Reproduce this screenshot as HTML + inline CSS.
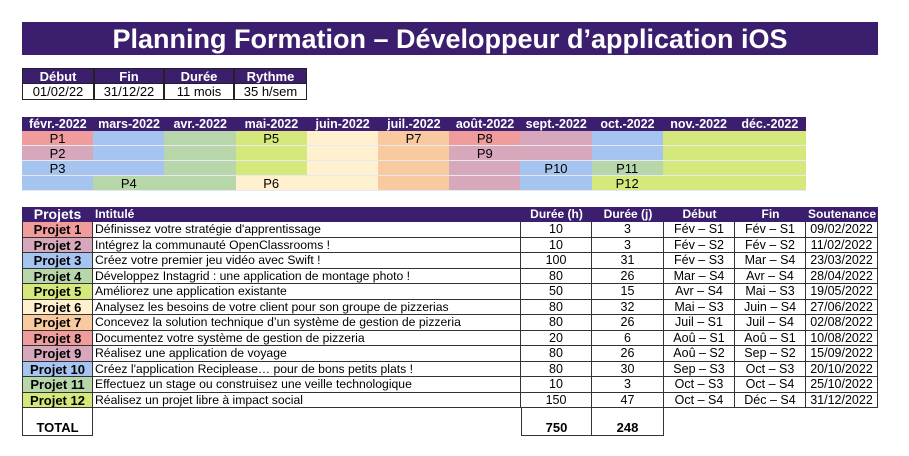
<!DOCTYPE html>
<html><head><meta charset="utf-8">
<style>
body{margin:0;width:909px;height:456px;background:#fff;position:relative;overflow:hidden;font-family:"Liberation Sans",Arial,sans-serif;}
.c{position:absolute;box-sizing:border-box;font-size:13px;line-height:15px;color:#000;white-space:nowrap;overflow:hidden}
.h{background:#3b1e6e;color:#fff;font-weight:bold;text-align:center}
.ctr{text-align:center}
</style></head><body>
<div class="c h" style="left:22px;top:22px;width:856px;height:33px;font-size:27px;line-height:34px;">Planning Formation – Développeur d’application iOS</div>
<div id="root"></div>
<script>
const months=["févr.-2022","mars-2022","avr.-2022","mai-2022","juin-2022","juil.-2022","août-2022","sept.-2022","oct.-2022","nov.-2022","déc.-2022"];
const C={r:"#f09c9c",p:"#d7a7bb",b:"#a5c4f0",g:"#b7d7aa",l:"#d5e87c",y:"#fff0cf",o:"#f9c9a0"};
const ganttRows=[
 ["r","b","g","l","y","o","r","p","b","l","l"],
 ["p","b","g","l","y","o","p","p","b","l","l"],
 ["b","b","g","l","y","o","p","b","g","l","l"],
 ["b","g","g","y","y","o","p","b","l","l","l"]];
const ganttLabels=[[[0,"P1"],[3,"P5"],[5,"P7"],[6,"P8"]],[[0,"P2"],[6,"P9"]],[[0,"P3"],[7,"P10"],[8,"P11"]],[[1,"P4"],[3,"P6"],[8,"P12"]]];
const projColors=["r","p","b","g","l","y","o","r","p","b","g","l"];
const titles=["Définissez votre stratégie d'apprentissage","Intégrez la communauté OpenClassrooms !","Créez votre premier jeu vidéo avec Swift !","Développez Instagrid : une application de montage photo !","Améliorez une application existante","Analysez les besoins de votre client pour son groupe de pizzerias","Concevez la solution technique d’un système de gestion de pizzeria","Documentez votre système de gestion de pizzeria","Réalisez une application de voyage","Créez l'application Reciplease… pour de bons petits plats !","Effectuez un stage ou construisez une veille technologique","Réalisez un projet libre à impact social"];
const hours=[10,10,100,80,50,80,80,20,80,80,10,150];
const days=[3,3,31,26,15,32,26,6,26,30,3,47];
const starts=["Fév – S1","Fév – S2","Fév – S3","Mar – S4","Avr – S4","Mai – S3","Juil – S1","Aoû – S1","Aoû – S2","Sep – S3","Oct – S3","Oct – S4"];
const ends=["Fév – S1","Fév – S2","Mar – S4","Avr – S4","Mai – S3","Juin – S4","Juil – S4","Aoû – S1","Sep – S2","Oct – S3","Oct – S4","Déc – S4"];
const defenses=["09/02/2022","11/02/2022","23/03/2022","28/04/2022","19/05/2022","27/06/2022","02/08/2022","10/08/2022","15/09/2022","20/10/2022","25/10/2022","31/12/2022"];
const summaryHead=["Début","Fin","Durée","Rythme"];
const summaryVals=["01/02/22","31/12/22","11 mois","35 h/sem"];

const root=document.getElementById('root');
function cell(x,y,w,h,txt,cls,style,name){
 const d=document.createElement('div');
 d.className='c '+(cls||'');
 d.style.cssText=`left:${x}px;top:${y}px;width:${w}px;height:${h}px;line-height:${h}px;`+(style||'');
 d.textContent=txt;
 
 
 root.appendChild(d);return d;}
const sx=[22,94,164,234,307];
summaryHead.forEach((t,i)=>{
 cell(sx[i],68,sx[i+1]-sx[i],16,t,'h','border:1px solid #222;font-size:13px','summary-header');
 cell(sx[i],84,sx[i+1]-sx[i],16,summaryVals[i],'ctr','border:1px solid #222;border-top:none;font-size:13px','summary-value');
});
const gx0=22,gw=71.2,gy=117;
months.forEach((m,i)=>cell(gx0+i*gw,gy,gw+0.5,14,m,'h','font-size:12.5px','gantt-month-header'));
ganttRows.forEach((row,r)=>row.forEach((c,i)=>cell(gx0+i*gw,131+r*15,gw+0.5,15,'','',`background:${C[c]};border-bottom:1px solid #e8e8f0`,'gantt-cell')));
ganttLabels.forEach((row,r)=>row.forEach(([i,t])=>cell(gx0+i*gw,131+r*15,gw,15,t,'ctr','font-size:13px;background:transparent','gantt-label')));
const cx=[22,93,521,592,664,735,806,878];
const heads=["Projets","Intitulé","Durée (h)","Durée (j)","Début","Fin","Soutenance"];
heads.forEach((t,i)=>cell(cx[i],207,cx[i+1]-cx[i],15,t,'h',(i==1?'text-align:left;padding-left:2px;':'')+'font-size:'+(i==0?14:12)+'px','table-header'));
const rh=15.5,ry=222;
const fs='font-size:12.5px;';
for(let r=0;r<12;r++){
 const y=ry+r*rh;
 const b='border-right:1px solid #333;border-bottom:1px solid #333;';
 cell(cx[0],y,cx[1]-cx[0],rh,'Projet '+(r+1),'ctr',`background:${C[projColors[r]]};font-weight:bold;font-size:13px;border-left:1px solid #333;`+b,'project-label');
 cell(cx[1],y,cx[2]-cx[1],rh,titles[r],'',`padding-left:2px;font-size:12.2px;`+b,'project-title');
 cell(cx[2],y,cx[3]-cx[2],rh,hours[r],'ctr',b+fs,'duration-hours');
 cell(cx[3],y,cx[4]-cx[3],rh,days[r],'ctr',b+fs,'duration-days');
 cell(cx[4],y,cx[5]-cx[4],rh,starts[r],'ctr',b+fs,'start-week');
 cell(cx[5],y,cx[6]-cx[5],rh,ends[r],'ctr',b+fs,'end-week');
 cell(cx[6],y,cx[7]-cx[6],rh,defenses[r],'ctr',b+fs,'defense-date');
}
const ty=ry+12*rh, th=436-ty;
cell(cx[0],ty,cx[1]-cx[0],th,'TOTAL','ctr','border:1px solid #333;border-top:none;font-weight:bold;line-height:14px;padding-top:'+(th-15)+'px','total-label');
cell(cx[2],ty,cx[3]-cx[2],th,hours.reduce((a,b)=>a+b,0),'ctr','border:1px solid #333;border-top:none;font-weight:bold;line-height:14px;padding-top:'+(th-15)+'px','total-hours');
cell(cx[3],ty,cx[4]-cx[3],th,days.reduce((a,b)=>a+b,0),'ctr','border:1px solid #333;border-top:none;border-left:none;font-weight:bold;line-height:14px;padding-top:'+(th-15)+'px','total-days');
</script>
</body></html>
